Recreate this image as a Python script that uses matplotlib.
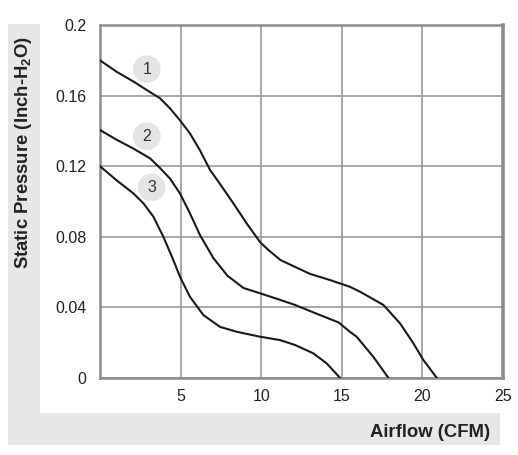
import numpy as np
from matplotlib import pyplot as plt
from matplotlib.patches import Rectangle

# krzywe wentylatora
x1 = [0, 1.03, 2.07, 3.1, 3.72, 4.34, 4.96, 5.58, 6.2, 6.82, 7.44, 8.27, 9.1, 9.93, 10.45, 11.2,
      13.03, 14.27, 15.5, 16.13, 17.58, 18.61, 19.44, 20.06, 20.9]
y1 = [0.180, 0.1735, 0.168, 0.162, 0.1585, 0.1528, 0.146, 0.1386, 0.129, 0.118, 0.110, 0.099, 0.0876,
      0.077, 0.0725, 0.0668, 0.059, 0.0555, 0.0517, 0.0489, 0.0414, 0.031, 0.0197, 0.0102, 0.0]

x2 = [0, 1.03, 2.07, 3.1, 3.72, 4.34, 4.96, 5.58, 6.2, 7.03, 7.9, 8.9, 9.93, 11.0, 12.1, 13.5,
      14.8, 15.5, 15.92, 16.95, 17.9]
y2 = [0.1405, 0.135, 0.130, 0.1245, 0.119, 0.113, 0.1046, 0.0933, 0.081, 0.068, 0.058, 0.051, 0.048,
      0.0448, 0.0414, 0.0362, 0.0315, 0.0262, 0.0234, 0.0121, 0.0]

x3 = [0, 1.03, 2.07, 2.69, 3.31, 3.93, 4.45, 4.96, 5.58, 6.41, 7.44, 8.48, 9.93, 11.17, 12.1,
      13.23, 14.06, 14.9]
y3 = [0.120, 0.112, 0.1046, 0.099, 0.0914, 0.080, 0.069, 0.0574, 0.046, 0.0357, 0.029, 0.0262,
      0.0234, 0.0215, 0.0187, 0.014, 0.0083, 0.0]

curve_labels = ['1', '2', '3']
label_x = [2.9, 2.9, 3.2]
label_y = [0.175, 0.137, 0.108]

x_ticks = [5, 10, 15, 20, 25]
y_ticks = [0, 0.04, 0.08, 0.12, 0.16, 0.2]
y_tick_labels = ['0', '0.04', '0.08', '0.12', '0.16', '0.2']

plt.rcParams['font.family'] = ['Liberation Sans', 'DejaVu Sans']

fig = plt.figure(figsize=(5.18, 4.55), dpi=100)

# szare tlo (ksztalt L)
grey = '#e7e7e9'
fig.patches.append(Rectangle((0.0154, 0.022), 0.0618, 0.925, transform=fig.transFigure,
                             facecolor=grey, edgecolor='none', zorder=0))
fig.patches.append(Rectangle((0.0154, 0.022), 0.9496, 0.0703, transform=fig.transFigure,
                             facecolor=grey, edgecolor='none', zorder=0))

ax = fig.add_axes([0.1931, 0.1692, 0.7779, 0.7758])
ax.set_xlim(0, 25)
ax.set_ylim(0, 0.2)

ax.set_xticks(x_ticks)
ax.set_yticks(y_ticks)
ax.set_yticklabels(y_tick_labels)
ax.tick_params(length=0, labelsize=11.5, labelcolor='#222222')
ax.tick_params(axis='y', pad=10)
ax.tick_params(axis='x', pad=8)
ax.grid(True, color='#9a9a9a', linewidth=1.2)
ax.set_axisbelow(True)
for side in ['left', 'bottom', 'top']:
    ax.spines[side].set_color('#8c8c8c')
    ax.spines[side].set_linewidth(1.8)
ax.spines['right'].set_color('#8c8c8c')
ax.spines['right'].set_linewidth(2.6)

for xs, ys in [(x1, y1), (x2, y2), (x3, y3)]:
    ax.plot(xs, ys, color='#1a1a1a', linewidth=1.5, zorder=3, solid_joinstyle='round')

ax.scatter(label_x, label_y, s=400, color='#e4e4e6', edgecolors='none', zorder=4, clip_on=False)
for t, lx, ly in zip(curve_labels, label_x, label_y):
    ax.text(lx, ly, t, ha='center', va='center', fontsize=11.5, color='#333333', zorder=5)

fig.text(0.046, 0.666, 'Static Pressure (Inch-H$_\\mathregular{2}$O)', rotation=90,
         ha='center', va='center', fontsize=13.3, fontweight='bold', color='#222222')
fig.text(0.946, 0.0505, 'Airflow (CFM)', ha='right', va='center',
         fontsize=13.3, fontweight='bold', color='#222222')

fig.savefig('out.png', dpi=100)
